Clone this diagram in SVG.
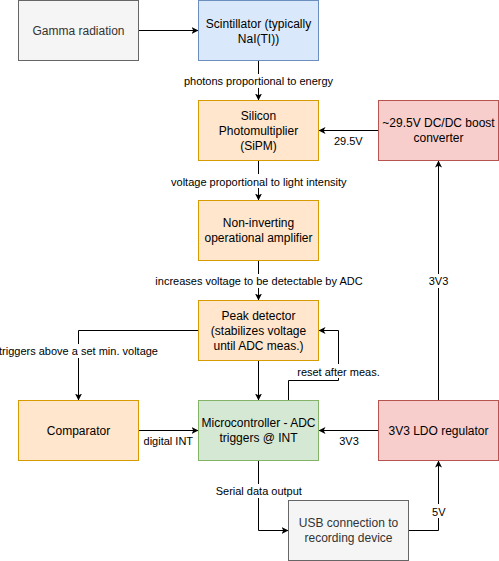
<svg xmlns="http://www.w3.org/2000/svg" width="499" height="561" viewBox="0 0 499 561">
<style>
.n{stroke-width:1}
.gray{fill:#f5f5f5;stroke:#666666}
.blue{fill:#dae8fc;stroke:#6c8ebf}
.orange{fill:#ffe6cc;stroke:#d79b00}
.red{fill:#f8cecc;stroke:#b85450}
.green{fill:#d5e8d4;stroke:#82b366}
.t{font-family:"Liberation Sans",Arial,sans-serif;font-size:12px;text-anchor:middle;fill:#000000}
.tg{fill:#333333}
.e{fill:none;stroke:#000000;stroke-width:1}
.l{font-family:"Liberation Sans",Arial,sans-serif;font-size:11px;text-anchor:middle;fill:#000000}
.bg{fill:#ffffff}
</style>
<defs>
<marker id="arr" markerUnits="userSpaceOnUse" viewBox="0 0 7 7" markerWidth="7" markerHeight="7" refX="7" refY="3.5" orient="auto">
<path d="M0,0 L7,3.5 L0,7 L1.8,3.5 Z" fill="#000000"/>
</marker>
</defs>
<g id="connectors">
<path class="e" d="M138.5,30.5 L198.5,30.5" marker-end="url(#arr)"/>
<path class="e" d="M258.5,60.5 L258.5,100.5" marker-end="url(#arr)"/>
<path class="e" d="M258.5,160.5 L258.5,200.5" marker-end="url(#arr)"/>
<path class="e" d="M258.5,260.5 L258.5,300.5" marker-end="url(#arr)"/>
<path class="e" d="M378.5,130.5 L318.5,130.5" marker-end="url(#arr)"/>
<path class="e" d="M438.5,400.5 L438.5,160.5" marker-end="url(#arr)"/>
<path class="e" d="M378.5,430.5 L318.5,430.5" marker-end="url(#arr)"/>
<path class="e" d="M138.5,430.5 L198.5,430.5" marker-end="url(#arr)"/>
<path class="e" d="M198.5,330.5 L78.5,330.5 L78.5,400.5" marker-end="url(#arr)"/>
<path class="e" d="M258.5,360.5 L258.5,400.5" marker-end="url(#arr)"/>
<path class="e" d="M288.5,400.5 L288.5,380.5 L338.5,380.5 L338.5,330.5 L318.5,330.5" marker-end="url(#arr)"/>
<path class="e" d="M258.5,460.5 L258.5,530.5 L288.5,530.5" marker-end="url(#arr)"/>
<path class="e" d="M408.5,530.5 L438.5,530.5 L438.5,460.5" marker-end="url(#arr)"/>
<g id="labels">
<rect class="bg" x="184" y="74" width="149" height="14"/>
<text class="l" x="258.5" y="85">photons proportional to energy</text>
<rect class="bg" x="173" y="174" width="172" height="14"/>
<text class="l" x="258.8" y="185.5">voltage proportional to light intensity</text>
<rect class="bg" x="155" y="274" width="208" height="14"/>
<text class="l" x="259" y="285">increases voltage to be detectable by ADC</text>
<rect class="bg" x="429" y="274" width="20" height="14"/>
<text class="l" x="438.5" y="285">3V3</text>
<text class="l" x="348.3" y="145">29.5V</text>
<rect class="bg" x="0" y="344" width="158" height="14"/>
<text class="l" x="78.5" y="355">triggers above a set min. voltage</text>
<rect class="bg" x="296" y="364" width="85" height="14"/>
<text class="l" x="338.5" y="375.5">reset after meas.</text>
<text class="l" x="168.3" y="445">digital INT</text>
<text class="l" x="349" y="445">3V3</text>
<rect class="bg" x="216" y="484" width="86" height="14"/>
<text class="l" x="258.8" y="495">Serial data output</text>
<rect class="bg" x="431" y="504" width="15" height="14"/>
<text class="l" x="438.8" y="515.5">5V</text>
</g>
</g>
<g id="gamma"><rect class="n gray" x="18.5" y="0.5" width="120" height="60"/><text class="t tg" x="78.5" y="35">Gamma radiation</text></g>
<g id="scintillator"><rect class="n blue" x="198.5" y="0.5" width="120" height="60"/><text class="t" x="258.5" y="27.5">Scintillator (typically</text><text class="t" x="258.5" y="42.5">NaI(TI))</text></g>
<g id="sipm"><rect class="n orange" x="198.5" y="100.5" width="120" height="60"/><text class="t" x="258.5" y="120.3">Silicon</text><text class="t" x="258.5" y="135">Photomultiplier</text><text class="t" x="258.5" y="149.7">(SiPM)</text></g>
<g id="boost"><rect class="n red" x="378.5" y="100.5" width="120" height="60"/><text class="t" x="438.5" y="127">~29.5V DC/DC boost</text><text class="t" x="438.5" y="141.7">converter</text></g>
<g id="opamp"><rect class="n orange" x="198.5" y="200.5" width="120" height="60"/><text class="t" x="258.5" y="227">Non-inverting</text><text class="t" x="258.5" y="242">operational amplifier</text></g>
<g id="peak"><rect class="n orange" x="198.5" y="300.5" width="120" height="60"/><text class="t" x="258.5" y="320.3">Peak detector</text><text class="t" x="258.5" y="335">(stabilizes voltage</text><text class="t" x="258.5" y="349.7">until ADC meas.)</text></g>
<g id="comparator"><rect class="n orange" x="18.5" y="400.5" width="120" height="60"/><text class="t" x="78.5" y="435">Comparator</text></g>
<g id="mcu"><rect class="n green" x="198.5" y="400.5" width="120" height="60"/><text class="t" x="258.5" y="427">Microcontroller - ADC</text><text class="t" x="258.5" y="442">triggers @ INT</text></g>
<g id="ldo"><rect class="n red" x="378.5" y="400.5" width="120" height="60"/><text class="t" x="438.5" y="435">3V3 LDO regulator</text></g>
<g id="usb"><rect class="n gray" x="288.5" y="500.5" width="120" height="60"/><text class="t tg" x="348.5" y="527">USB connection to</text><text class="t tg" x="348.5" y="542">recording device</text></g>
</svg>
